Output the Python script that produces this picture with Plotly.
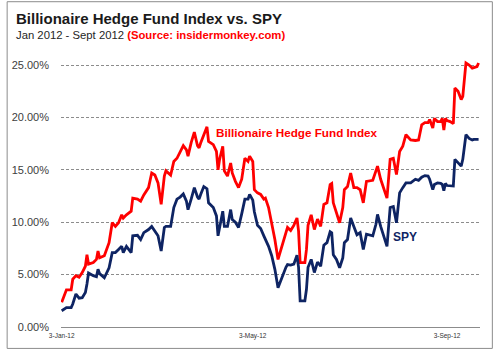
import plotly.graph_objects as go

dates = [
    "2012-01-03", "2012-01-06", "2012-01-09", "2012-01-10", "2012-01-12", "2012-01-14",
    "2012-01-16", "2012-01-18", "2012-01-19", "2012-01-20", "2012-01-23", "2012-01-25",
    "2012-01-26", "2012-01-27", "2012-01-30", "2012-02-01", "2012-02-02", "2012-02-04",
    "2012-02-06", "2012-02-08", "2012-02-10", "2012-02-11", "2012-02-13", "2012-02-16",
    "2012-02-17", "2012-02-20", "2012-02-22", "2012-02-24", "2012-02-27", "2012-02-29",
    "2012-03-02", "2012-03-04", "2012-03-06", "2012-03-08", "2012-03-09", "2012-03-12",
    "2012-03-14", "2012-03-16", "2012-03-18", "2012-03-20", "2012-03-22", "2012-03-23",
    "2012-03-25", "2012-03-27", "2012-03-29", "2012-03-30", "2012-03-31", "2012-04-02",
    "2012-04-04", "2012-04-05", "2012-04-08", "2012-04-10", "2012-04-11", "2012-04-12",
    "2012-04-14", "2012-04-15", "2012-04-17", "2012-04-19", "2012-04-20", "2012-04-22",
    "2012-04-24", "2012-04-26", "2012-04-28", "2012-04-30", "2012-05-01", "2012-05-03",
    "2012-05-04", "2012-05-06", "2012-05-08", "2012-05-10", "2012-05-11", "2012-05-13",
    "2012-05-15", "2012-05-17", "2012-05-19", "2012-05-22", "2012-05-24", "2012-05-25",
    "2012-05-27", "2012-05-29", "2012-05-31", "2012-06-01", "2012-06-02", "2012-06-05",
    "2012-06-06", "2012-06-07", "2012-06-09", "2012-06-11", "2012-06-13", "2012-06-15",
    "2012-06-17", "2012-06-19", "2012-06-21", "2012-06-22", "2012-06-23", "2012-06-25",
    "2012-06-27", "2012-06-29", "2012-06-30", "2012-07-02", "2012-07-04", "2012-07-06",
    "2012-07-08", "2012-07-10", "2012-07-12", "2012-07-14", "2012-07-18", "2012-07-20",
    "2012-07-21", "2012-07-23", "2012-07-25", "2012-07-27", "2012-07-29", "2012-07-31",
    "2012-08-02", "2012-08-04", "2012-08-06", "2012-08-08", "2012-08-11", "2012-08-14",
    "2012-08-16", "2012-08-18", "2012-08-20", "2012-08-22", "2012-08-23", "2012-08-25",
    "2012-08-26", "2012-08-28", "2012-08-30", "2012-08-31", "2012-09-01", "2012-09-02",
    "2012-09-03", "2012-09-05", "2012-09-07", "2012-09-08", "2012-09-10", "2012-09-12",
    "2012-09-13", "2012-09-15", "2012-09-17", "2012-09-19", "2012-09-20", "2012-09-22",
    "2012-09-23",
]

hedge_fund_index = [
    2.35, 3.55, 3.55, 4.56, 4.9, 4.75,
    5.2, 5.8, 6.9, 6.0, 6.15, 6.45,
    7.25, 6.6, 6.8, 7.7, 8.05, 9.95,
    9.6, 9.95, 10.7, 10.4, 10.7, 11.05,
    12.3, 12.2, 12.0, 12.6, 13.3, 14.7,
    14.5, 13.75, 11.7, 14.4, 14.9, 14.5,
    15.8, 16.1, 16.75, 17.3, 16.9, 16.3,
    17.6, 18.6, 17.3, 17.1, 17.55, 18.35,
    19.1, 17.7, 17.4, 16.75, 15.0, 16.0,
    17.25, 14.9, 14.4, 15.65, 14.7, 13.9,
    13.3, 14.1, 16.1, 15.8, 16.3, 15.8,
    13.1, 12.8, 12.65, 12.2, 12.3, 11.4,
    9.95, 8.35, 6.45, 8.0, 9.15, 9.5,
    9.2, 9.7, 10.4, 9.15, 6.15, 6.15,
    7.4, 9.7, 10.7, 9.3, 10.3, 9.6,
    11.7, 11.85, 13.6, 13.7, 11.85, 10.9,
    9.95, 11.4, 13.1, 13.4, 14.7, 13.3,
    13.3, 13.1, 11.85, 13.9, 14.0, 14.9,
    15.35, 14.1, 13.1, 12.3, 16.0, 16.1,
    14.55, 16.75, 17.25, 18.35, 17.85, 17.8,
    17.85, 19.3, 19.5, 19.5, 19.8, 19.0,
    19.9, 19.6, 19.6, 19.9, 18.8, 19.9,
    19.7, 19.6, 19.4, 22.8, 22.5, 21.7,
    22.0, 25.2, 25.0, 24.7, 24.75, 24.85,
    25.2,
]

spy = [
    1.55, 1.85, 1.85, 2.2, 3.15, 2.75,
    2.8, 3.3, 4.1, 5.15, 4.9, 4.8,
    5.5, 5.1, 4.7, 5.35, 5.65, 7.1,
    7.1, 7.4, 7.7, 7.1, 7.7, 7.1,
    8.7, 8.75, 8.35, 9.0, 9.3, 9.6,
    9.2, 8.7, 7.25, 9.5, 9.6, 9.6,
    11.4, 12.2, 12.4, 12.7, 12.0, 11.2,
    12.2, 13.3, 12.4, 12.2, 12.65, 13.4,
    13.2, 11.85, 11.4, 10.6, 8.7, 9.6,
    11.05, 9.6, 9.6, 11.2, 10.25, 10.0,
    9.5, 10.8, 12.2, 12.2, 12.65, 12.1,
    11.0, 9.7, 9.4, 8.7, 8.35, 7.7,
    6.8, 5.5, 3.75, 5.0, 5.7, 5.95,
    5.9, 6.0, 6.85, 5.7, 2.5, 2.5,
    3.6, 5.7, 6.45, 5.2, 6.2, 5.8,
    7.8, 8.05, 9.1, 9.0, 6.9, 6.45,
    5.65, 6.6, 8.05, 8.35, 10.4, 9.6,
    8.8, 9.0, 7.4, 8.85, 8.7, 9.8,
    10.75, 9.6, 8.7, 7.7, 11.4, 11.5,
    9.95, 12.8, 13.3, 13.75, 13.75, 14.1,
    14.0, 14.3, 14.45, 14.4, 14.1, 13.1,
    13.6, 13.75, 13.7, 13.6, 13.0, 13.7,
    13.5, 13.45, 13.45, 16.0, 15.65, 15.35,
    16.0, 18.35, 18.0, 17.85, 17.9, 17.9,
    17.9,
]

tick_dates = ["2012-01-03", "2012-05-03", "2012-09-03"]
tick_labels = ["3-Jan-12", "3-May-12", "3-Sep-12"]
y_ticks = [0, 5, 10, 15, 20, 25]
y_tick_labels = ["0.00%", "5.00%", "10.00%", "15.00%", "20.00%", "25.00%"]

RED = "#FF0000"
NAVY = "#0E2463"
W, H = 495, 352
ML, MR, MT, MB = 56, 15, 58, 24
PW, PH = W - ML - MR, H - MT - MB


def px(x):
    return (x - ML) / PW


def py(y):
    return (H - MB - y) / PH


fig = go.Figure()
fig.add_trace(go.Scatter(x=dates, y=hedge_fund_index, mode="lines",
                         line=dict(color=RED, width=2.8), name="Billionaire Hedge Fund Index",
                         hoverinfo="x+y"))
fig.add_trace(go.Scatter(x=dates, y=spy, mode="lines",
                         line=dict(color=NAVY, width=2.8), name="SPY", hoverinfo="x+y"))

fig.update_layout(
    width=W, height=H,
    margin=dict(l=ML, r=MR, t=MT, b=MB, pad=0),
    paper_bgcolor="white", plot_bgcolor="white",
    showlegend=False,
    font=dict(family="Liberation Sans, Arial, sans-serif", color="#404040"),
    xaxis=dict(
        type="date",
        range=["2012-01-02 13:26", "2012-09-23 21:36"],
        tickvals=tick_dates, ticktext=tick_labels,
        tickfont=dict(size=6.5, color="#333333"),
        showgrid=False, zeroline=False,
        showline=False, ticks="", ticklabelstandoff=3,
    ),
    yaxis=dict(
        range=[0, 25.67],
        tickvals=y_ticks, ticktext=y_tick_labels,
        tickfont=dict(size=11, color="#404040"),
        showgrid=True, gridcolor="#8c8c8c", griddash="3px,2px", gridwidth=1,
        zeroline=True, zerolinecolor="#8c8c8c", zerolinewidth=1.3,
        showline=False, ticks="", ticklabelstandoff=11,
    ),
    shapes=[dict(type="rect", xref="paper", yref="paper",
                 x0=px(1.5), x1=px(492.5), y0=py(349.5), y1=py(1.5),
                 line=dict(color="#8c8c8c", width=1), fillcolor="rgba(0,0,0,0)",
                 layer="below")],
    annotations=[
        dict(xref="paper", yref="paper", x=px(8), y=py(18), xanchor="left", yanchor="middle",
             text="<b>Billionaire Hedge Fund Index vs. SPY</b>", showarrow=False,
             font=dict(family="Liberation Sans Narrow, Arial Narrow, sans-serif", size=15,
                       color="#1a1a1a")),
        dict(xref="paper", yref="paper", x=px(8), y=py(34.5), xanchor="left", yanchor="middle",
             text="Jan 2012 - Sept 2012 <b><span style='color:#FF0000'>(Source: insidermonkey.com)</span></b>",
             showarrow=False,
             font=dict(family="Liberation Sans, Arial, sans-serif", size=11.3, color="#262626")),
        dict(xref="paper", yref="paper", x=px(211), y=py(133), xanchor="left", yanchor="middle",
             text="<b>Billionaire Hedge Fund Index</b>", showarrow=False,
             font=dict(family="Liberation Sans Narrow, Arial Narrow, sans-serif", size=11.7, color=RED)),
        dict(xref="paper", yref="paper", x=px(390), y=py(238), xanchor="left", yanchor="middle",
             text="<b>SPY</b>", showarrow=False,
             font=dict(family="Liberation Sans, Arial, sans-serif", size=12, color=NAVY)),
    ],
)

fig.write_html("out.html")
